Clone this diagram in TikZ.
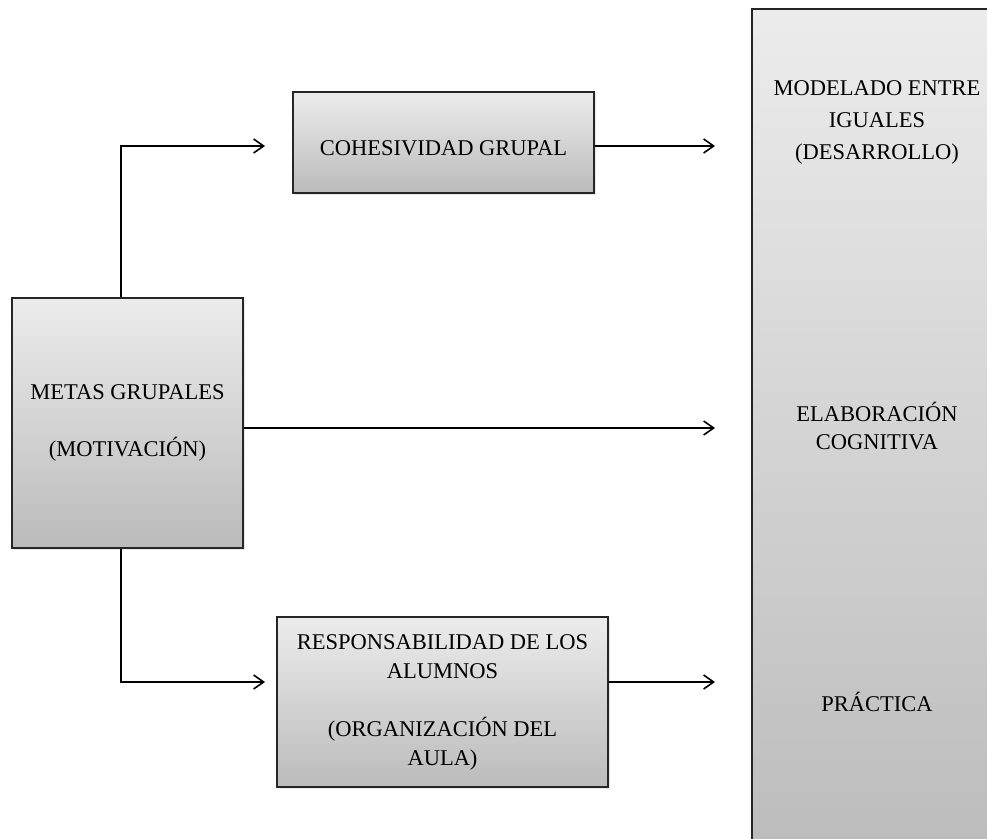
\documentclass[tikz,border=0pt]{standalone}
\usepackage{fontspec}
\setmainfont{Liberation Serif}
\usepackage{tikz}
\usetikzlibrary{arrows.meta, positioning, shadows}
\definecolor{boxtop}{RGB}{236,236,236}
\definecolor{boxbottom}{RGB}{187,187,187}

\begin{document}
\begin{tikzpicture}[x=1pt, y=-1pt,
        caja/.style={draw=black!85, line width=1.5pt, top color=boxtop, bottom color=boxbottom, align=center, inner sep=0pt, font=\fontsize{22.5}{29}\selectfont, drop shadow={opacity=0.18, shadow xshift=1.5pt, shadow yshift=-2pt}},
        flecha/.style={line width=1.3pt, -{Straight Barb[length=10pt, width=14pt, line width=1.6pt]}},
        texto/.style={align=center, font=\fontsize{22.5}{29}\selectfont}]
        \clip (0,0) rectangle (987,838);

        % cajas
        \node[caja, minimum width=231pt, minimum height=250pt] (metas) at (127.5,423) {METAS GRUPALES\\[28pt](MOTIVACIÓN)};
        \node[caja, minimum width=301pt, minimum height=101pt] (cohesion) at (443.5,142.5) {\raisebox{-6pt}[\height][\depth]{COHESIVIDAD GRUPAL}};
        \node[caja, minimum width=331pt, minimum height=170pt] (respons) at (442.5,702) {RESPONSABILIDAD DE LOS\\ALUMNOS\\[29pt](ORGANIZACIÓN DEL\\AULA)};
        \node[caja, minimum width=250pt, minimum height=860pt] (procesos) at (877,439) {};

        \node[texto, font=\fontsize{22.5}{32}\selectfont] (modelado) at (877,122) {MODELADO ENTRE\\IGUALES\\(DESARROLLO)};
        \node[texto, font=\fontsize{22.5}{28}\selectfont] (elaboracion) at (877,426) {ELABORACIÓN\\COGNITIVA};
        \node[texto] (practica) at (877,702) {PRÁCTICA};

        % extremos de las flechas
        \coordinate (aCohesion) at (265,146);
        \coordinate (aRespons) at (265,682);
        \coordinate (aModelado) at (715,146);
        \coordinate (aElaboracion) at (715,428);
        \coordinate (aPractica) at (715,682);

        \draw[flecha] ([xshift=-6.5pt]metas.north) |- (aCohesion);
        \draw[flecha] ([xshift=-6.5pt]metas.south) |- (aRespons);
        \draw[flecha] (metas.east |- aElaboracion) -- (aElaboracion);
        \draw[flecha] (cohesion.east |- aModelado) -- (aModelado);
        \draw[flecha] (respons.east |- aPractica) -- (aPractica);
    \end{tikzpicture}
\end{document}
